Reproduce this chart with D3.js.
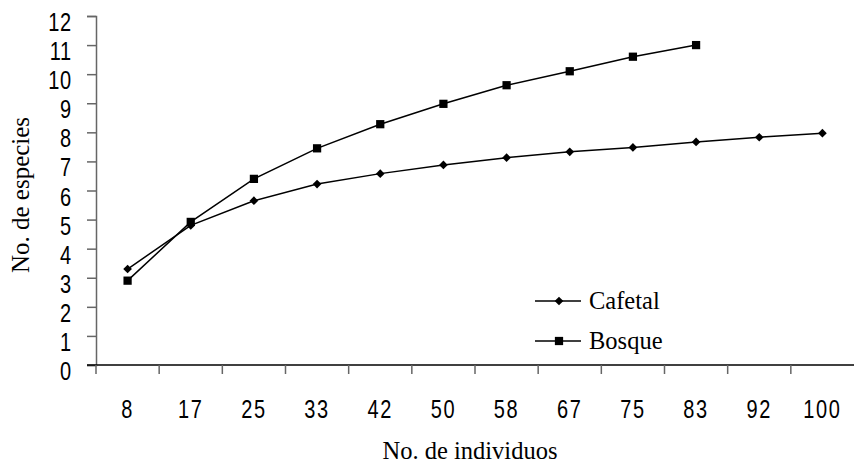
<!DOCTYPE html>
<html>
<head>
<meta charset="utf-8">
<script src="https://cdn.jsdelivr.net/npm/d3@7"></script>
<style>
  body { margin: 0; background: #fff; }
</style>
</head>
<body>
<div id="chart"></div>
<script>
// data
const individuos = ["8", "17", "25", "33", "42", "50", "58", "67", "75", "83", "92", "100"]
const cafetal = [3.3, 4.8, 5.65, 6.22, 6.58, 6.88, 7.13, 7.33, 7.48, 7.67, 7.83, 7.97]
const bosque = [2.9, 4.92, 6.4, 7.45, 8.28, 8.98, 9.62, 10.1, 10.6, 11.0]
const yTicks = [0, 1, 2, 3, 4, 5, 6, 7, 8, 9, 10, 11, 12]

const W = 854, H = 464
const margin = { top: 16, right: 0, bottom: 99, left: 96 }
const sansNarrow = "'Liberation Sans', Arial, sans-serif"
const serif = "'Liberation Serif', 'Times New Roman', serif"

const svg = d3.select("#chart")
    .append("svg")
    .attr("width", W)
    .attr("height", H)

const x = d3.scaleBand()
    .domain(individuos)
    .range([margin.left, W - margin.right])

const y = d3.scaleLinear()
    .domain([0, 12])
    .range([H - margin.bottom, margin.top])

// y axis (labels drawn by hand so they can be squeezed like Arial Narrow)
const yAxis = svg.append("g")
    .attr("transform", `translate(${margin.left},0)`)
    .call(d3.axisLeft(y).tickValues(yTicks).tickSize(9).tickFormat(""))
yAxis.select(".domain").attr("stroke", "#666").attr("stroke-width", 1.5)
yAxis.selectAll(".tick line").attr("stroke", "#666").attr("stroke-width", 1.5)

svg.selectAll(".ylbl")
    .data(yTicks)
    .enter().append("text")
    .attr("class", "ylbl")
    .attr("transform", d => `translate(72,${y(d) + 15}) scale(0.8,1)`)
    .attr("text-anchor", "end")
    .attr("font-family", sansNarrow)
    .attr("font-size", 25)
    .style("letter-spacing", "1px")
    .text(d => d)

// x axis, ticks on band edges
const xAxis = svg.append("g")
    .attr("transform", `translate(0,${y(0)})`)
xAxis.append("line")
    .attr("x1", margin.left - 9)
    .attr("x2", W)
    .attr("stroke", "#000")
    .attr("stroke-width", 1.5)
xAxis.selectAll(".edge")
    .data(individuos)
    .enter().append("line")
    .attr("x1", d => x(d))
    .attr("x2", d => x(d))
    .attr("y1", 0)
    .attr("y2", 9)
    .attr("stroke", "#666")
    .attr("stroke-width", 1.5)

svg.selectAll(".xlbl")
    .data(individuos)
    .enter().append("text")
    .attr("class", "xlbl")
    .attr("transform", d => `translate(${x(d) + x.bandwidth() / 2},418) scale(0.8,1)`)
    .attr("text-anchor", "middle")
    .attr("font-family", sansNarrow)
    .attr("font-size", 25)
    .style("letter-spacing", "2px")
    .text(d => d)

// axis titles
svg.append("text")
    .attr("x", 470)
    .attr("y", 459)
    .attr("text-anchor", "middle")
    .attr("font-family", serif)
    .attr("font-size", 24.5)
    .text("No. de individuos")

svg.append("text")
    .attr("transform", `translate(29,195) rotate(-90)`)
    .attr("text-anchor", "middle")
    .attr("font-family", serif)
    .attr("font-size", 25)
    .text("No. de especies")

const cx = (d, i) => x(individuos[i]) + x.bandwidth() / 2

const line = d3.line()
    .x(cx)
    .y(d => y(d))

const diamond = d3.symbol().type(d3.symbolDiamond2).size(48)
const square = d3.symbol().type(d3.symbolSquare).size(68)

function drawSeries(values, sym) {
    svg.append("path")
        .datum(values)
        .attr("fill", "none")
        .attr("stroke", "#000")
        .attr("stroke-width", 1.5)
        .attr("d", line)
    svg.selectAll(null)
        .data(values)
        .enter().append("path")
        .attr("transform", (d, i) => `translate(${cx(d, i)},${y(d)})`)
        .attr("d", sym)
        .attr("fill", "#000")
}

drawSeries(cafetal, diamond)
drawSeries(bosque, square)

// legend
const legend = [
    { name: "Cafetal", sym: diamond, yy: 301 },
    { name: "Bosque", sym: square, yy: 341 }
]
legend.forEach(l => {
    svg.append("line")
        .attr("x1", 535).attr("x2", 581)
        .attr("y1", l.yy).attr("y2", l.yy)
        .attr("stroke", "#000").attr("stroke-width", 1.5)
    svg.append("path")
        .attr("transform", `translate(559,${l.yy})`)
        .attr("d", l.sym)
        .attr("fill", "#000")
    svg.append("text")
        .attr("x", 589)
        .attr("y", l.yy + 8)
        .attr("font-family", serif)
        .attr("font-size", 24.5)
        .text(l.name)
})
</script>
</body>
</html>
